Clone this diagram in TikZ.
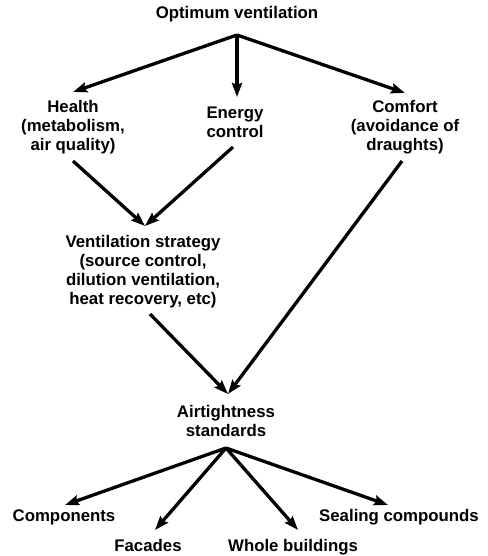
\documentclass[tikz,border=0pt]{standalone}
\usepackage{fontspec}
\setmainfont{Liberation Sans}
\usetikzlibrary{arrows.meta}
\begin{document}
\begin{tikzpicture}[x=1pt,y=-1pt,
  lbl/.style={align=center,inner sep=0pt,font=\bfseries\fontsize{16.8}{19}\selectfont},
  arr/.style={line width=3.3pt,-{Stealth[length=14pt,width=10pt,inset=2pt]}}]
\useasboundingbox[fill=white] (0,0) rectangle (487,556);
\node[lbl] (ov) at (237,14) {Optimum ventilation};
\node[lbl] (he) at (73,127) {Health\\(metabolism,\\air quality)};
\node[lbl] (en) at (235,122) {Energy\\control};
\node[lbl] (co) at (405,127) {Comfort\\(avoidance of\\draughts)};
\node[lbl] (vs) at (143,272) {Ventilation strategy\\(source control,\\dilution ventilation,\\heat recovery, etc)};
\node[lbl] (at) at (226,421) {Airtightness\\standards};
\node[lbl] (cp) at (64,517) {Components};
\node[lbl,anchor=base] (fa) at (148,551) {Facades};
\node[lbl,anchor=base] (wb) at (293,551) {Whole buildings};
\node[lbl] (sc) at (399,517) {Sealing compounds};
% junction coordinates
\coordinate (ovs) at (237,35);
\coordinate (het) at (73,92);
\coordinate (ent) at (237,97);
\coordinate (cot) at (405,93);
\coordinate (heb) at (73,161);
\coordinate (enb) at (233,147);
\coordinate (cob) at (402,161);
\coordinate (vst) at (145,226);
\coordinate (vsb) at (150,314);
\coordinate (att) at (228,394);
\coordinate (atb) at (226,448);
\coordinate (cpt) at (65,505);
\coordinate (fat) at (155,530);
\coordinate (wbt) at (298,530);
\coordinate (sct) at (388,505);
\draw[arr] (ovs) -- (het);
\draw[arr] (ovs) -- (ent);
\draw[arr] (ovs) -- (cot);
\draw[arr] (heb) -- (vst);
\draw[arr] (enb) -- (vst);
\draw[arr] (cob) -- (att);
\draw[arr] (vsb) -- (att);
\draw[arr] (atb) -- (cpt);
\draw[arr] (atb) -- (fat);
\draw[arr] (atb) -- (wbt);
\draw[arr] (atb) -- (sct);
\end{tikzpicture}
\end{document}
